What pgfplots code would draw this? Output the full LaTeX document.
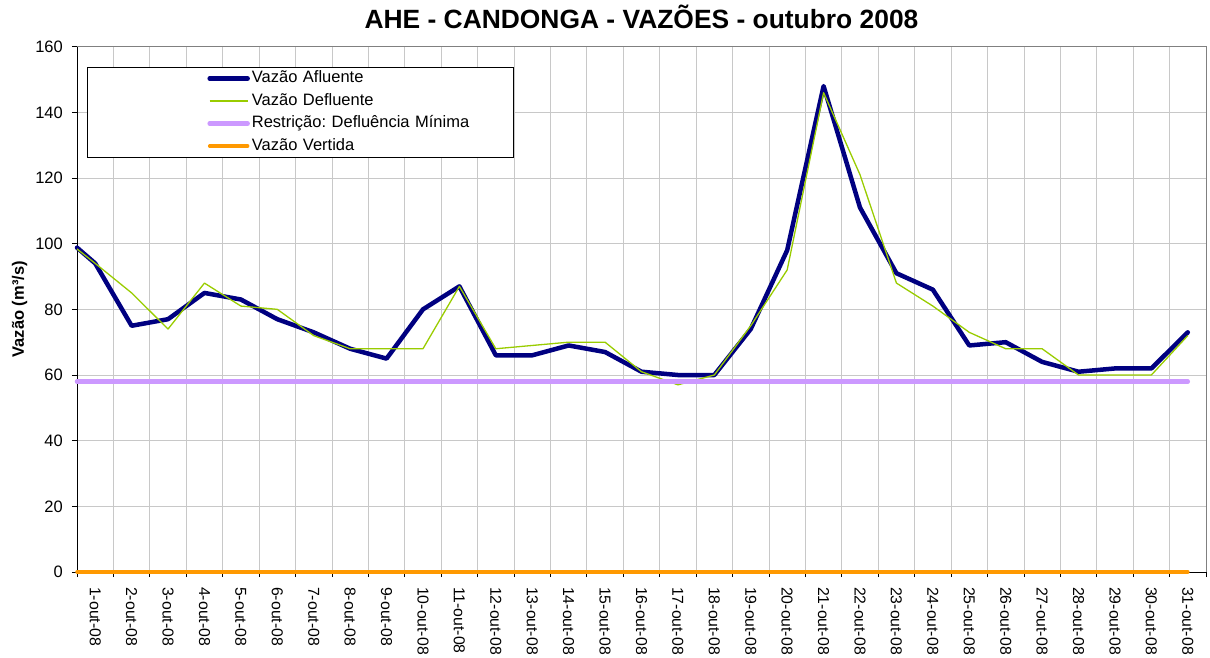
\documentclass[border=0pt]{standalone}
\usepackage{fontspec}
\setmainfont{Liberation Sans}
\usepackage{pgfplots}
\usepackage{pgfplotstable}
\pgfplotsset{compat=1.18}
\frenchspacing
\definecolor{afl}{HTML}{000080}
\definecolor{defl}{HTML}{99CC00}
\definecolor{restr}{HTML}{CC99FF}
\definecolor{vert}{HTML}{FF9900}
\definecolor{gridgray}{HTML}{C8C8C8}
\definecolor{boxgray}{HTML}{808080}

\pgfplotstableread{
x af def
0.5 98.8 98.4
1 94 94
2 75 85
3 77 74
4 85 88
5 83 81
6 77 80
7 73 72
8 68 68
9 65 68
10 80 68
11 87 87
12 66 68
13 66 69
14 69 70
15 67 70
16 61 61
17 60 57
18 60 60
19 74 75
20 98 92
21 148 146
22 111 121
23 91 88
24 86 81
25 69 73
26 70 68
27 64 68
28 61 60
29 62 60
30 62 60
31 73 72
}\flows

\pgfplotstableread{
x minimo vertida
0.5 58 0
31 58 0
}\limits

\begin{document}
\begin{tikzpicture}
\begin{axis}[
  scale only axis,
  width=1129bp, height=525.3bp,
  xmin=0.5, xmax=31.5, ymin=0, ymax=160,
  clip=false,
  axis lines*=left,
  axis line style={-, draw=black, line width=0.8bp},
  ytick={0,20,...,160},
  xtick={1,...,31},
  xticklabels={1-out-08,2-out-08,3-out-08,4-out-08,5-out-08,6-out-08,7-out-08,8-out-08,9-out-08,10-out-08,11-out-08,12-out-08,13-out-08,14-out-08,15-out-08,16-out-08,17-out-08,18-out-08,19-out-08,20-out-08,21-out-08,22-out-08,23-out-08,24-out-08,25-out-08,26-out-08,27-out-08,28-out-08,29-out-08,30-out-08,31-out-08},
  minor xtick={0.5,1.5,...,31.5},
  xmajorgrids=false, xminorgrids=true, ymajorgrids=true,
  grid style={draw=gridgray, line width=0.8bp},
  major x tick style={draw=none},
  minor x tick style={draw=black, line width=0.8bp},
  major y tick style={draw=black, line width=0.8bp},
  tick align=outside,
  major tick length=5bp, minor tick length=5bp,
  /pgf/number format/assume math mode=true,
  tick label style={font=\fontsize{16.5bp}{19bp}\selectfont},
  xticklabel style={rotate=-90, anchor=west, inner sep=0pt, font=\fontsize{15.8bp}{18bp}\selectfont},
  xticklabel shift=10bp,
  yticklabel style={inner sep=0pt, xshift=-9bp},
  ylabel={Vazão (m³/s)},
  ylabel style={font=\bfseries\fontsize{16.5bp}{19bp}\selectfont, at={(axis description cs:-0.0509,0.5)}, anchor=center, rotate=0},
  title={AHE - CANDONGA - VAZÕES - outubro 2008},
  title style={font=\bfseries\fontsize{26.4bp}{30bp}\selectfont, at={(axis description cs:0.5,1)}, anchor=base, yshift=12bp},
  legend image code/.code={\path (-120bp,-5bp) (38bp,5bp); \draw[#1] (0bp,0bp) -- (38bp,0bp);},
  legend style={at={(0.00886,0.9614)}, anchor=north west, draw=black, fill=white, line width=0.8bp,
    inner xsep=0pt, inner ysep=0pt, row sep=0pt, column sep=0pt,
    font=\fontsize{16.5bp}{19bp}\selectfont,
    nodes={inner xsep=2bp, inner ysep=3.25bp, text height=12bp, text depth=4bp, text width=259bp, align=left}},
  legend cell align=left,
]
\addplot[afl, line width=4.5bp, line join=round, line cap=round] table[x=x, y=af] {\flows};
\addlegendentry{Vazão Afluente}
\addplot[defl, line width=1.3bp, line join=round] table[x=x, y=def] {\flows};
\addlegendentry{Vazão Defluente}
\addplot[restr, line width=4.5bp, line cap=round] table[x=x, y=minimo] {\limits};
\addlegendentry{Restrição: Defluência Mínima}
\addplot[vert, line width=3.5bp, line cap=round] table[x=x, y=vertida] {\limits};
\addlegendentry{Vazão Vertida}
\draw[boxgray, line width=0.8bp] (rel axis cs:0,1) -- (rel axis cs:1,1) -- (rel axis cs:1,0);
\end{axis}
\pgfresetboundingbox
\path (-77bp,-86bp) rectangle (1133bp,572bp);
\end{tikzpicture}
\end{document}
